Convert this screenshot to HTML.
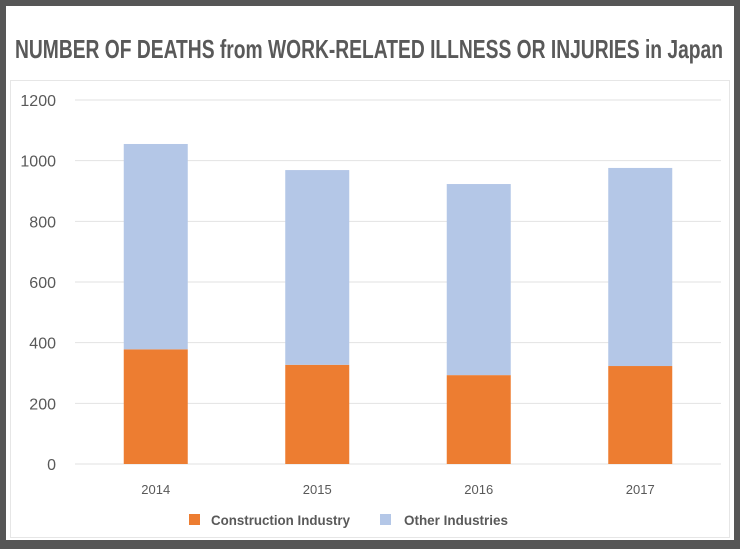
<!DOCTYPE html>
<html><head><meta charset="utf-8"><style>
html,body{margin:0;padding:0;background:#565656;}
svg{display:block;}
</style></head><body>
<svg width="740" height="549" viewBox="0 0 740 549" xmlns="http://www.w3.org/2000/svg">
<rect x="6" y="6" width="728" height="534" fill="#ffffff"/>
<rect x="10.5" y="80.5" width="719" height="457" fill="none" stroke="#e6e6e6"/>
<text x="369" y="58" text-anchor="middle" textLength="708" lengthAdjust="spacingAndGlyphs" font-family="Liberation Sans, sans-serif" font-weight="bold" font-size="26" fill="#595959">NUMBER OF DEATHS from WORK-RELATED ILLNESS OR INJURIES in Japan</text>
<g id="grid"></g>
<g id="ylabels"></g>
<g id="bars"></g>
<g id="xlabels"></g>
<g>
<g>
<rect x="189" y="514" width="11" height="11" fill="#ED7D31"/>
<text x="211" y="525" font-family="Liberation Sans, sans-serif" font-weight="bold" font-size="14" fill="#595959" textLength="139" lengthAdjust="spacingAndGlyphs">Construction Industry</text>
</g>
<g>
<rect x="380" y="514" width="11" height="11" fill="#B4C7E7"/>
<text x="404" y="525" font-family="Liberation Sans, sans-serif" font-weight="bold" font-size="14" fill="#595959" textLength="104" lengthAdjust="spacingAndGlyphs">Other Industries</text>
</g>
</g>
</svg>
<script>
const categories = ["2014","2015","2016","2017"];
const construction = [378, 327, 293, 323];
const other = [677, 642, 630, 653];
const yTicks = [0,200,400,600,800,1000,1200];

const NS = "http://www.w3.org/2000/svg";
const plotL = 75, plotR = 721, y0 = 464, yTop = 100, yMax = 1200;
const yScale = v => y0 - (v / yMax) * (y0 - yTop);
const band = (plotR - plotL) / categories.length;
const xCenter = i => plotL + band * (i + 0.5);
const barW = 64;

const grid = document.getElementById('grid');
const yl = document.getElementById('ylabels');
yTicks.forEach(t => {
  const l = document.createElementNS(NS, 'line');
  
  
  l.setAttribute('x1', plotL); l.setAttribute('x2', plotR);
  l.setAttribute('y1', yScale(t)); l.setAttribute('y2', yScale(t));
  l.setAttribute('stroke', '#e2e2e2'); l.setAttribute('stroke-width', '1');
  grid.appendChild(l);
  const tx = document.createElementNS(NS, 'text');
  
  
  tx.setAttribute('x', 56); tx.setAttribute('y', yScale(t) + 6);
  tx.setAttribute('text-anchor', 'end');
  tx.setAttribute('font-family', 'Liberation Sans, sans-serif');
  tx.setAttribute('font-size', '16'); tx.setAttribute('fill', '#595959');
  tx.textContent = t;
  yl.appendChild(tx);
});

const bars = document.getElementById('bars');
const xl = document.getElementById('xlabels');
categories.forEach((c, i) => {
  const x = xCenter(i) - barW / 2;
  const r1 = document.createElementNS(NS, 'rect');
  
  
  r1.setAttribute('x', x); r1.setAttribute('width', barW);
  r1.setAttribute('y', yScale(construction[i]));
  r1.setAttribute('height', y0 - yScale(construction[i]));
  r1.setAttribute('fill', '#ED7D31');
  bars.appendChild(r1);
  const tot = construction[i] + other[i];
  const r2 = document.createElementNS(NS, 'rect');
  
  
  r2.setAttribute('x', x); r2.setAttribute('width', barW);
  r2.setAttribute('y', yScale(tot));
  r2.setAttribute('height', yScale(construction[i]) - yScale(tot));
  r2.setAttribute('fill', '#B4C7E7');
  bars.appendChild(r2);
  const tx = document.createElementNS(NS, 'text');
  
  
  tx.setAttribute('x', xCenter(i)); tx.setAttribute('y', 494);
  tx.setAttribute('text-anchor', 'middle');
  tx.setAttribute('font-family', 'Liberation Sans, sans-serif');
  tx.setAttribute('font-size', '13'); tx.setAttribute('fill', '#595959');
  tx.textContent = c;
  xl.appendChild(tx);
});
</script>
</body></html>
